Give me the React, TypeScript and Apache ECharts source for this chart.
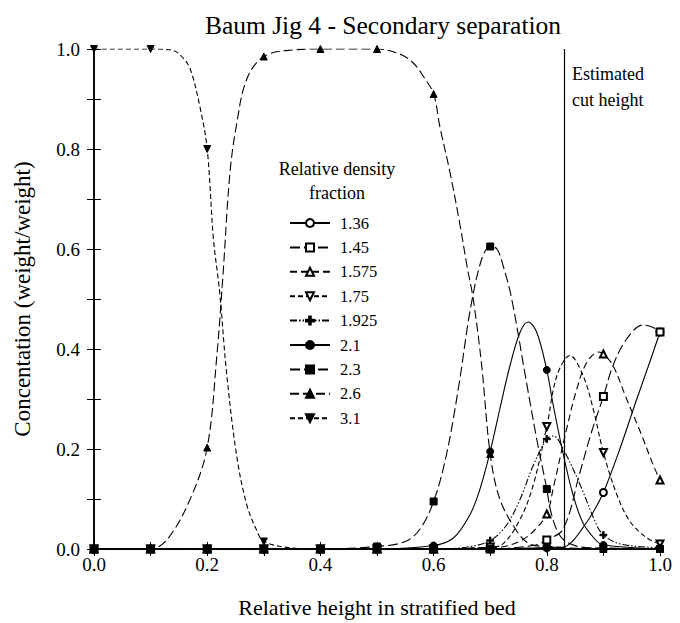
import React, { useEffect, useRef } from "react";
import * as echarts from "echarts";

const TITLE = "Baum Jig 4 - Secondary separation";
const X_NAME = "Relative height in stratified bed";
const Y_NAME = "Concentation (weight/weight)";
const LEGEND_TITLE = "Relative density\nfraction";
const CUT_LABEL = "Estimated\ncut height";
const CUT_HEIGHT = 0.83;

// x positions of the measured (marked) points
const MARKER_X = [0, 0.1, 0.2, 0.3, 0.4, 0.5, 0.6, 0.7, 0.8, 0.9, 1.0];

const FRACTIONS = ["1.36", "1.45", "1.575", "1.75", "1.925", "2.1", "2.3", "2.6", "3.1"];

// marked values at MARKER_X
const M_136 = [0, 0, 0, 0, 0, 0, 0, 0, 0.003, 0.113, 0.434];
const M_145 = [0, 0, 0, 0, 0, 0, 0, 0, 0.018, 0.305, 0.434];
const M_1575 = [0, 0, 0, 0, 0, 0, 0, 0.003, 0.07, 0.39, 0.138];
const M_175 = [0, 0, 0, 0, 0, 0, 0, 0.004, 0.245, 0.193, 0.01];
const M_1925 = [0, 0, 0, 0, 0, 0, 0, 0.017, 0.22, 0.028, 0.003];
const M_21 = [0, 0, 0, 0, 0, 0, 0.007, 0.195, 0.358, 0.008, 0];
const M_23 = [0, 0, 0, 0, 0, 0.005, 0.095, 0.605, 0.12, 0.002, 0];
const M_26 = [0, 0, 0.203, 0.985, 1.0, 1.0, 0.91, 0.19, 0.005, 0, 0];
const M_31 = [1.0, 1.0, 0.8, 0.015, 0, 0, 0, 0, 0, 0, 0];

// fitted-curve points read between the markers
const C_136: number[][] = [[0.83, 0.004], [0.845, 0.015], [0.859, 0.035], [0.88, 0.07], [0.929, 0.2], [0.959, 0.3], [0.982, 0.374]];
const C_145: number[][] = [[0.78, 0.008], [0.829, 0.04], [0.859, 0.155], [0.879, 0.234], [0.917, 0.367], [0.941, 0.42], [0.97, 0.448], [0.988, 0.443]];
const C_1575: number[][] = [[0.72, 0.004], [0.753, 0.016], [0.776, 0.035], [0.812, 0.125], [0.835, 0.24], [0.853, 0.32], [0.871, 0.374], [0.892, 0.394], [0.917, 0.367], [0.941, 0.3], [0.965, 0.235], [0.988, 0.168]];
const C_175: number[][] = [[0.72, 0.008], [0.753, 0.06], [0.776, 0.128], [0.818, 0.347], [0.841, 0.387], [0.864, 0.347], [0.882, 0.28], [0.924, 0.108], [0.947, 0.055], [0.977, 0.022]];
const C_1925: number[][] = [[0.66, 0.004], [0.729, 0.048], [0.753, 0.1], [0.776, 0.167], [0.812, 0.226], [0.829, 0.2], [0.859, 0.128], [0.888, 0.048], [0.924, 0.012], [0.96, 0.005]];
const C_21: number[][] = [[0.635, 0.022], [0.664, 0.068], [0.682, 0.12], [0.717, 0.28], [0.735, 0.367], [0.753, 0.434], [0.767, 0.454], [0.782, 0.434], [0.811, 0.29], [0.829, 0.19], [0.846, 0.11], [0.864, 0.052], [0.888, 0.016]];
const C_23: number[][] = [[0.55, 0.015], [0.576, 0.04], [0.623, 0.19], [0.645, 0.33], [0.665, 0.48], [0.685, 0.58], [0.712, 0.6], [0.723, 0.566], [0.738, 0.5], [0.764, 0.334], [0.782, 0.221], [0.806, 0.08], [0.817, 0.04], [0.83, 0.018], [0.86, 0.004]];
const C_26: number[][] = [[0.13, 0.02], [0.17, 0.1], [0.217, 0.386], [0.228, 0.55], [0.24, 0.75], [0.252, 0.85], [0.27, 0.94], [0.35, 0.998], [0.54, 0.99], [0.564, 0.972], [0.582, 0.945], [0.611, 0.845], [0.629, 0.753], [0.647, 0.646], [0.659, 0.566], [0.67, 0.5], [0.685, 0.367], [0.717, 0.1], [0.747, 0.036], [0.77, 0.01]];
const C_31: number[][] = [[0.14, 0.997], [0.155, 0.985], [0.17, 0.96], [0.187, 0.885], [0.211, 0.62], [0.222, 0.514], [0.234, 0.355], [0.252, 0.187], [0.27, 0.088], [0.288, 0.036], [0.35, 0.002]];

const MARKS = [M_136, M_145, M_1575, M_175, M_1925, M_21, M_23, M_26, M_31];
const CURVES = [C_136, C_145, C_1575, C_175, C_1925, C_21, C_23, C_26, C_31];

const PLUS = "path://M4,0H6V4H10V6H6V10H4V6H0V4H4Z";
const STYLES = [
  { symbol: "emptyCircle", rotate: 0, dash: "solid" as any },
  { symbol: "emptyRect", rotate: 0, dash: [10, 4] },
  { symbol: "emptyTriangle", rotate: 0, dash: [7, 4] },
  { symbol: "emptyTriangle", rotate: 180, dash: [5, 3] },
  { symbol: PLUS, rotate: 0, dash: [7, 2, 1.5, 2, 1.5, 2] },
  { symbol: "circle", rotate: 0, dash: "solid" as any },
  { symbol: "rect", rotate: 0, dash: [10, 4] },
  { symbol: "triangle", rotate: 0, dash: [9, 4] },
  { symbol: "triangle", rotate: 180, dash: [5, 3] },
];

const FONT = "'Liberation Serif', 'Times New Roman', serif";

function buildData(marks: number[], curve: number[][]) {
  const pts: any[] = MARKER_X.map((x, i) => ({ value: [x, marks[i]] }));
  const extra: any[] = curve.map(([x, y]) => ({ value: [x, y], symbol: "none" }));
  return pts.concat(extra).sort((a, b) => a.value[0] - b.value[0]);
}

const evenLabel = (v: number) => (Math.round(v * 10) % 2 === 0 ? v.toFixed(1) : "");

export default function App() {
  const ref = useRef<HTMLDivElement>(null);
  useEffect(() => {
    if (!ref.current) return;
    const chart = echarts.init(ref.current, undefined, { renderer: "svg" });
    const series: any[] = FRACTIONS.map((name, i) => ({
      name,
      type: "line",
      xAxisIndex: 0,
      yAxisIndex: 0,
      data: buildData(MARKS[i], CURVES[i]),
      smooth: 0.35,
      symbol: STYLES[i].symbol,
      symbolRotate: STYLES[i].rotate,
      symbolSize: 7,
      showSymbol: true,
      showAllSymbol: true,
      lineStyle: { color: "#000", width: 1.1, type: STYLES[i].dash },
      itemStyle: { color: "#000", borderColor: "#000", borderWidth: 1 },
      emphasis: { disabled: true },
      z: 3 + i,
    }));
    series[0].markLine = {
      silent: true,
      symbol: ["none", "none"],
      label: { show: false },
      lineStyle: { color: "#000", width: 1.2, type: "solid" },
      data: [{ xAxis: CUT_HEIGHT }],
    };

    const axisCommon = {
      type: "value",
      min: 0,
      max: 1,
      interval: 0.1,
      axisLine: { show: true, lineStyle: { color: "#000", width: 1.6 } },
      axisTick: { show: true, inside: true, length: 7, lineStyle: { color: "#000", width: 1 } },
      splitLine: { show: false },
    };

    chart.setOption({
      animation: false,
      backgroundColor: "#fff",
      title: [
        {
          text: TITLE,
          left: 378,
          top: 7,
          textAlign: "center",
          textStyle: { fontFamily: FONT, fontSize: 25.5, fontWeight: "normal", color: "#000" },
        },
        {
          text: LEGEND_TITLE,
          left: 332,
          top: 152,
          textAlign: "center",
          textStyle: { fontFamily: FONT, fontSize: 18, fontWeight: "normal", color: "#000", lineHeight: 24 },
        },
      ],
      legend: {
        orient: "vertical",
        left: 284,
        top: 209,
        itemWidth: 40,
        itemHeight: 10,
        itemGap: 6.4,
        selectedMode: false,
        data: FRACTIONS,
        textStyle: { fontFamily: FONT, fontSize: 16.5, color: "#000", lineHeight: 18, padding: [0, 0, 0, 5] },
      },
      grid: { left: 94, right: 20, top: 49, bottom: 72, containLabel: false },
      xAxis: [
        {
          ...axisCommon,
          position: "bottom",
          name: X_NAME,
          nameLocation: "middle",
          nameGap: 47,
          nameTextStyle: { fontFamily: FONT, fontSize: 22, color: "#000" },
          axisLabel: { formatter: evenLabel, fontFamily: FONT, fontSize: 19, color: "#000", margin: 6, showMinLabel: true, showMaxLabel: true },
        },
        { ...axisCommon, position: "top", axisLabel: { show: false } },
      ],
      yAxis: [
        {
          ...axisCommon,
          position: "left",
          name: Y_NAME,
          nameLocation: "middle",
          nameGap: 60,
          nameTextStyle: { fontFamily: FONT, fontSize: 23, color: "#000" },
          axisLabel: { formatter: evenLabel, fontFamily: FONT, fontSize: 19, color: "#000", margin: 14 },
        },
        { ...axisCommon, position: "right", axisLabel: { show: false } },
      ],
      graphic: [
        {
          type: "text",
          left: 572,
          top: 61,
          style: { text: CUT_LABEL, fontFamily: FONT, fontSize: 18, lineHeight: 26, fill: "#000" },
        },
      ],
      series,
    });
    return () => chart.dispose();
  }, []);
  return <div ref={ref} style={{ width: 680, height: 623, position: "absolute", left: 0, top: 0 }} />;
}
